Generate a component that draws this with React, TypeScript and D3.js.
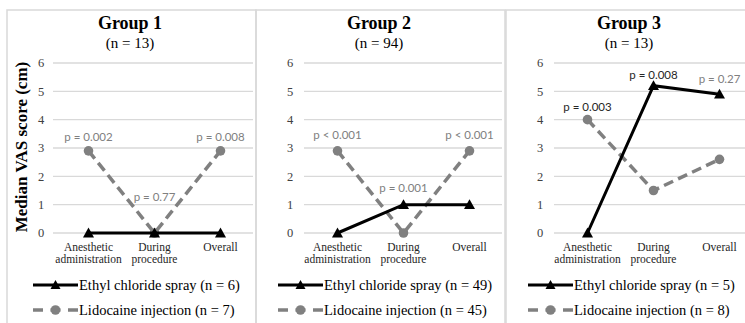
import React from "react";
import * as d3 from "d3";

const categories: string[][] = [["Anesthetic", "administration"], ["During", "procedure"], ["Overall"]];
const groupTitles = ["Group 1", "Group 2", "Group 3"];
const groupSizes = ["(n = 13)", "(n = 94)", "(n = 13)"];
const ethylValues = [
  [0, 0, 0],
  [0, 1, 1],
  [0, 5.2, 4.9],
];
const lidoValues = [
  [2.9, 0, 2.9],
  [2.9, 0, 2.9],
  [4, 1.5, 2.6],
];
const ethylN = [6, 49, 5];
const lidoN = [7, 45, 8];
const yTicks = [0, 1, 2, 3, 4, 5, 6];
const pTexts = [
  ["p = 0.002", "p = 0.77", "p = 0.008"],
  ["p < 0.001", "p = 0.001", "p < 0.001"],
  ["p = 0.003", "p = 0.008", "p = 0.27"],
];
// value (in VAS units) at which each p label sits
const pValuesAt = [
  [3.4, 1.28, 3.4],
  [3.45, 1.6, 3.45],
  [4.45, 5.57, 5.43],
];
const pDark = [
  [false, false, false],
  [false, false, false],
  [true, true, false],
];

const W = 745;
const H = 323;
const panelLefts = [7, 256, 506];
const GRID = "#d9d9d9";
const GRAY = "#808080";
const SERIF = '"Liberation Serif"';
const SANS = '"Lato"';

const y = d3.scaleLinear().domain([0, 6]).range([233, 63]);

function triangle(cx: number, cy: number, s = 5.5) {
  return `M${cx},${cy - s}L${cx + s},${cy + s * 0.8}L${cx - s},${cy + s * 0.8}Z`;
}

const serif = (size: number, bold = false): React.CSSProperties => ({
  fontFamily: SERIF,
  fontSize: size,
  fontWeight: bold ? 700 : 400,
});

function Panel({ i }: { i: number }) {
  const left = panelLefts[i];
  const x = d3.scalePoint<number>().domain([0, 1, 2]).range([left + 81.5, left + 213.5]);
  const gridX0 = left + (i === 0 ? 46 : 48);
  const gridX1 = left + 246;
  const line = d3
    .line<number>()
    .x((_, k) => x(k)!)
    .y((v) => y(v));
  const legX = left + (i === 0 ? 26 : 22);
  return (
    <g>
      <rect x={left} y={10} width={249} height={330} fill="none" stroke={GRID} strokeWidth={1.5} />
      <text x={left + 123} y={29} textAnchor="middle" style={serif(18, true)}>
        {groupTitles[i]}
      </text>
      <text x={left + 123} y={48} textAnchor="middle" style={serif(15)}>
        {groupSizes[i]}
      </text>
      {yTicks.map((t) => (
        <g key={t}>
          <line x1={gridX0} x2={gridX1} y1={y(t)} y2={y(t)} stroke={GRID} strokeWidth={1.3} />
          <text x={left + 34} y={y(t)} dy="0.35em" textAnchor="middle" style={serif(12.5)} fill="#404040">
            {t}
          </text>
        </g>
      ))}
      {categories.map((c, k) =>
        c.map((s, j) => (
          <text key={k + "-" + j} x={x(k)} y={247 + j * 12} dy="0.35em" textAnchor="middle" style={serif(11.5)} fill="#262626">
            {s}
          </text>
        ))
      )}
      <path d={line(lidoValues[i])!} fill="none" stroke={GRAY} strokeWidth={3.5} strokeDasharray="10,5.5" />
      {lidoValues[i].map((v, k) => (
        <circle key={k} cx={x(k)} cy={y(v)} r={4.8} fill={GRAY} />
      ))}
      <path d={line(ethylValues[i])!} fill="none" stroke="#000" strokeWidth={3} />
      {ethylValues[i].map((v, k) => (
        <path key={k} d={triangle(x(k)!, y(v))} fill="#000" />
      ))}
      {pTexts[i].map((t, k) => (
        <text key={k} x={x(k)} y={y(pValuesAt[i][k])} dy="0.35em" textAnchor="middle" style={{ fontFamily: SANS, fontSize: 11.5 }} fill={pDark[i][k] ? "#262626" : GRAY}>
          {t}
        </text>
      ))}
      <line x1={legX} x2={legX + 45} y1={285} y2={285} stroke="#000" strokeWidth={3} />
      <path d={triangle(legX + 22.5, 285, 5)} fill="#000" />
      <text x={legX + 46} y={285} dy="0.35em" style={serif(14.5)}>
        {`Ethyl chloride spray (n = ${ethylN[i]})`}
      </text>
      <line x1={legX} x2={legX + 45} y1={310} y2={310} stroke={GRAY} strokeWidth={3.5} strokeDasharray="10,7.5" />
      <circle cx={legX + 22.5} cy={310} r={4.8} fill={GRAY} />
      <text x={legX + 46} y={310} dy="0.35em" style={serif(14.5)}>
        {`Lidocaine injection (n = ${lidoN[i]})`}
      </text>
    </g>
  );
}

export default function App() {
  return (
    <svg width={W} height={H} style={{ position: "absolute", left: 0, top: 0, background: "#fff" }}>
      <rect width={W} height={H} fill="#fff" />
      {panelLefts.map((_, i) => (
        <Panel key={i} i={i} />
      ))}
      <text transform="translate(21,147) rotate(-90)" textAnchor="middle" dy="0.35em" style={serif(17, true)}>
        Median VAS score (cm)
      </text>
    </svg>
  );
}
